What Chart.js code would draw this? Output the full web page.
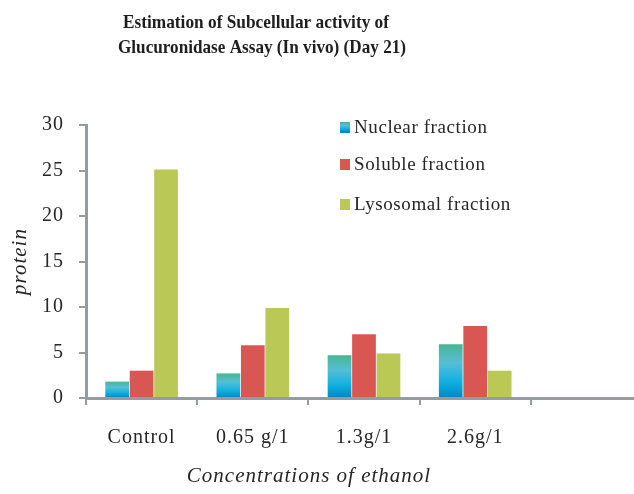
<!DOCTYPE html>
<html>
<head>
<meta charset="utf-8">
<script src="https://cdn.jsdelivr.net/npm/chart.js@4.4.1/dist/chart.umd.min.js"></script>
<style>
  html, body { margin: 0; padding: 0; background: #fff; overflow: hidden; }
  #wrap { width: 634px; height: 494px; overflow: hidden; }
</style>
</head>
<body>
<div id="wrap"><canvas id="grafico" width="642" height="494"></canvas></div>
<script>
// Datos
const categories = ['Control', '0.65 g/1', '1.3g/1', '2.6g/1', ''];
const nuclear = [1.8, 2.7, 4.7, 5.9, null];
const soluble = [3.0, 5.8, 7.0, 7.9, null];
const lysosomal = [25.1, 9.9, 4.9, 3.0, null];
const seriesNames = ['Nuclear fraction', 'Soluble fraction', 'Lysosomal fraction'];
const yTicks = [0, 5, 10, 15, 20, 25, 30];
const titleLines = ['Estimation of Subcellular activity of', 'Glucuronidase Assay (In vivo) (Day 21)'];
const xTitle = 'Concentrations of ethanol';
const yTitle = 'protein';

const gris = '#959ba0';
const texto = '#262626';
const serif = '"Liberation Serif", "Times New Roman", serif';

// Degradado verde -> azul de la serie nuclear
function degradado(ctx, top, bottom) {
  const g = ctx.createLinearGradient(0, top, 0, bottom);
  g.addColorStop(0, '#48b593');
  g.addColorStop(0.35, '#55bfd6');
  g.addColorStop(0.7, '#0fb0e0');
  g.addColorStop(1, '#0086c2');
  return g;
}

function colorNuclear(context) {
  const chart = context.chart;
  if (!chart.chartArea || context.type !== 'data' || context.raw == null) return '#2fb0d8';
  const y = chart.scales.y;
  return degradado(chart.ctx, y.getPixelForValue(context.raw), y.getPixelForValue(0));
}

const colores = [colorNuclear, '#d95753', '#bac855'];
const legendY = [127, 164, 204];

// Espaciado de letras como en el original (afecta a los ticks)
const espaciado = {
  id: 'espaciado',
  beforeDraw(chart) { chart.ctx.letterSpacing = '1px'; },
  afterDraw(chart) { chart.ctx.letterSpacing = '0px'; }
};

// Título, título del eje X y leyenda dibujados a mano
const textoExtra = {
  id: 'textoExtra',
  afterDraw(chart) {
    const ctx = chart.ctx;
    ctx.save();
    ctx.fillStyle = '#1e1e1e';
    ctx.textAlign = 'center';
    ctx.textBaseline = 'alphabetic';
    ctx.letterSpacing = '0px';
    ctx.font = 'bold 19px ' + serif;
    ctx.fillText(titleLines[0], 256, 28, 266);
    ctx.fillText(titleLines[1], 262, 53, 288);

    ctx.fillStyle = texto;
    ctx.letterSpacing = '1px';
    ctx.font = 'italic 21px ' + serif;
    ctx.fillText(xTitle, 309, 482);

    // leyenda
    ctx.textAlign = 'left';
    ctx.textBaseline = 'middle';
    ctx.letterSpacing = '0.6px';
    ctx.font = '19px ' + serif;
    chart.data.datasets.forEach((ds, i) => {
      const y = legendY[i];
      ctx.fillStyle = i === 0 ? degradado(ctx, y - 5, y + 5) : ds.backgroundColor;
      ctx.fillRect(340, y - 5, 10, 11);
      ctx.fillStyle = texto;
      ctx.fillText(ds.label, 354, y + 1);
    });
    ctx.restore();
  }
};

const datasets = [nuclear, soluble, lysosomal].map((vals, i) => ({
  label: seriesNames[i],
  data: vals,
  backgroundColor: colores[i],
  borderWidth: 0,
  barPercentage: 0.97,
  categoryPercentage: 0.66
}));

new Chart(document.getElementById('grafico').getContext('2d'), {
  type: 'bar',
  data: { labels: categories, datasets: datasets },
  plugins: [espaciado, textoExtra],
  options: {
    responsive: false,
    animation: false,
    layout: { padding: { top: 125, left: 0, right: 0, bottom: 0 } },
    plugins: {
      legend: { display: false },
      title: { display: false },
      tooltip: { enabled: false }
    },
    scales: {
      x: {
        afterFit(scale) { scale.height = 96; },
        border: { color: gris, width: 3 },
        grid: { color: gris, lineWidth: 2, drawOnChartArea: false, drawTicks: true, tickLength: 7, offset: true },
        ticks: { color: texto, font: { family: serif, size: 20 }, padding: 21, maxRotation: 0 }
      },
      y: {
        min: yTicks[0],
        max: yTicks[yTicks.length - 1],
        afterFit(scale) { scale.width = 86; },
        afterBuildTicks(scale) { scale.ticks = yTicks.map(v => ({ value: v })); },
        border: { color: gris, width: 3 },
        grid: { color: gris, lineWidth: 2, drawOnChartArea: false, drawTicks: true, tickLength: 7 },
        ticks: { color: texto, font: { family: serif, size: 20 }, padding: 15 },
        title: {
          display: true,
          text: yTitle,
          color: texto,
          font: { family: serif, size: 21, style: 'italic' },
          padding: { top: 8, bottom: 0 }
        }
      }
    }
  }
});
</script>
</body>
</html>
